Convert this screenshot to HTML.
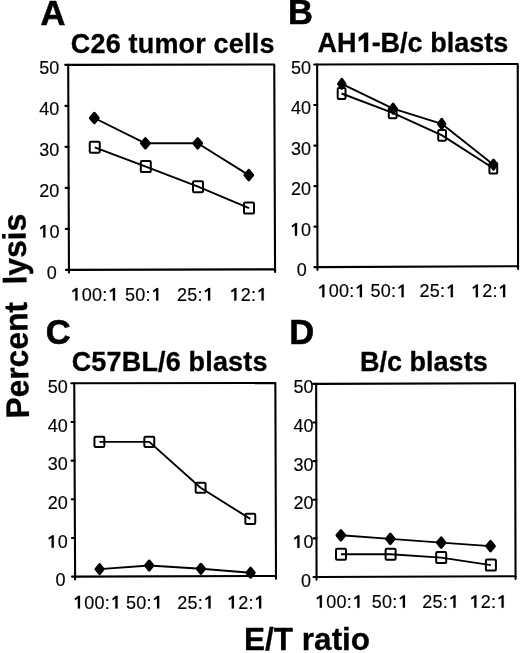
<!DOCTYPE html>
<html><head><meta charset="utf-8"><style>
html,body{margin:0;padding:0;background:#fff;}
body{width:520px;height:653px;overflow:hidden;}
svg{display:block;filter:grayscale(1);}
text{font-family:"Liberation Sans",sans-serif;fill:#000;}
text.t{stroke:#000;stroke-width:0.15px;}
text.L{stroke:#000;stroke-width:0.6px;}
text.T{stroke:#000;stroke-width:0.3px;}
tspan.one{fill-opacity:0;stroke-opacity:0;}
</style></head><body>
<svg width="520" height="653" viewBox="0 0 520 653">
<g>
<rect x="-10" y="-10" width="540" height="673" fill="#fff"/>
<path d="M68.20,64.85 L274.25,64.45 L275.05,269.35 L68.95,269.90 Z" fill="none" stroke="#000" stroke-width="2.1" stroke-linejoin="round"/>
<line x1="65.95" y1="269.90" x2="68.95" y2="269.90" stroke="#000" stroke-width="2.1" stroke-linecap="round"/>
<line x1="65.80" y1="228.89" x2="68.80" y2="228.89" stroke="#000" stroke-width="2.1" stroke-linecap="round"/>
<line x1="65.65" y1="187.88" x2="68.65" y2="187.88" stroke="#000" stroke-width="2.1" stroke-linecap="round"/>
<line x1="65.50" y1="146.87" x2="68.50" y2="146.87" stroke="#000" stroke-width="2.1" stroke-linecap="round"/>
<line x1="65.35" y1="105.86" x2="68.35" y2="105.86" stroke="#000" stroke-width="2.1" stroke-linecap="round"/>
<line x1="65.20" y1="64.85" x2="68.20" y2="64.85" stroke="#000" stroke-width="2.1" stroke-linecap="round"/>
<line x1="68.95" y1="269.90" x2="68.95" y2="272.60" stroke="#000" stroke-width="2.1" stroke-linecap="round"/>
<line x1="275.05" y1="269.35" x2="275.05" y2="272.05" stroke="#000" stroke-width="2.1" stroke-linecap="round"/>
<polyline points="94.30,118.00 145.40,143.30 197.70,143.30 248.80,175.10" fill="none" stroke="#000" stroke-width="1.9" stroke-linejoin="round"/>
<polyline points="94.75,147.30 145.80,166.60 198.00,186.70 249.00,208.10" fill="none" stroke="#000" stroke-width="1.9" stroke-linejoin="round"/>
<path d="M94.30,113.30 L98.20,118.00 L94.30,122.70 L90.40,118.00 Z" fill="#000" stroke="#000" stroke-width="3.0" stroke-linejoin="round"/>
<path d="M145.40,138.60 L149.30,143.30 L145.40,148.00 L141.50,143.30 Z" fill="#000" stroke="#000" stroke-width="3.0" stroke-linejoin="round"/>
<path d="M197.70,138.60 L201.60,143.30 L197.70,148.00 L193.80,143.30 Z" fill="#000" stroke="#000" stroke-width="3.0" stroke-linejoin="round"/>
<path d="M248.80,170.40 L252.70,175.10 L248.80,179.80 L244.90,175.10 Z" fill="#000" stroke="#000" stroke-width="3.0" stroke-linejoin="round"/>
<rect x="89.75" y="141.80" width="10.00" height="11.00" rx="1.2" fill="none" stroke="#000" stroke-width="2.0"/>
<rect x="140.80" y="161.10" width="10.00" height="11.00" rx="1.2" fill="none" stroke="#000" stroke-width="2.0"/>
<rect x="193.00" y="181.20" width="10.00" height="11.00" rx="1.2" fill="none" stroke="#000" stroke-width="2.0"/>
<rect x="244.00" y="202.60" width="10.00" height="11.00" rx="1.2" fill="none" stroke="#000" stroke-width="2.0"/>
<path d="M317.15,64.55 L517.75,63.95 L518.05,266.20 L317.45,267.15 Z" fill="none" stroke="#000" stroke-width="2.1" stroke-linejoin="round"/>
<line x1="314.45" y1="267.15" x2="317.45" y2="267.15" stroke="#000" stroke-width="2.1" stroke-linecap="round"/>
<line x1="314.39" y1="226.63" x2="317.39" y2="226.63" stroke="#000" stroke-width="2.1" stroke-linecap="round"/>
<line x1="314.33" y1="186.11" x2="317.33" y2="186.11" stroke="#000" stroke-width="2.1" stroke-linecap="round"/>
<line x1="314.27" y1="145.59" x2="317.27" y2="145.59" stroke="#000" stroke-width="2.1" stroke-linecap="round"/>
<line x1="314.21" y1="105.07" x2="317.21" y2="105.07" stroke="#000" stroke-width="2.1" stroke-linecap="round"/>
<line x1="314.15" y1="64.55" x2="317.15" y2="64.55" stroke="#000" stroke-width="2.1" stroke-linecap="round"/>
<line x1="317.45" y1="267.15" x2="317.45" y2="269.85" stroke="#000" stroke-width="2.1" stroke-linecap="round"/>
<line x1="518.05" y1="266.20" x2="518.05" y2="268.90" stroke="#000" stroke-width="2.1" stroke-linecap="round"/>
<polyline points="341.80,83.80 393.10,108.70 441.70,123.80 493.50,164.70" fill="none" stroke="#000" stroke-width="1.9" stroke-linejoin="round"/>
<polyline points="341.60,93.50 392.70,112.90 442.10,135.40 493.30,168.20" fill="none" stroke="#000" stroke-width="1.9" stroke-linejoin="round"/>
<path d="M341.80,79.30 L345.00,83.80 L341.80,88.30 L338.60,83.80 Z" fill="#000" stroke="#000" stroke-width="3.0" stroke-linejoin="round"/>
<path d="M393.10,104.20 L396.30,108.70 L393.10,113.20 L389.90,108.70 Z" fill="#000" stroke="#000" stroke-width="3.0" stroke-linejoin="round"/>
<path d="M441.70,119.30 L444.90,123.80 L441.70,128.30 L438.50,123.80 Z" fill="#000" stroke="#000" stroke-width="3.0" stroke-linejoin="round"/>
<path d="M493.50,160.20 L496.70,164.70 L493.50,169.20 L490.30,164.70 Z" fill="#000" stroke="#000" stroke-width="3.0" stroke-linejoin="round"/>
<rect x="337.70" y="88.10" width="7.80" height="10.80" rx="1.2" fill="none" stroke="#000" stroke-width="2.0"/>
<rect x="388.80" y="107.50" width="7.80" height="10.80" rx="1.2" fill="none" stroke="#000" stroke-width="2.0"/>
<rect x="438.20" y="130.00" width="7.80" height="10.80" rx="1.2" fill="none" stroke="#000" stroke-width="2.0"/>
<rect x="489.40" y="162.80" width="7.80" height="10.80" rx="1.2" fill="none" stroke="#000" stroke-width="2.0"/>
<path d="M74.25,383.30 L275.35,383.05 L276.00,576.00 L75.10,576.65 Z" fill="none" stroke="#000" stroke-width="2.1" stroke-linejoin="round"/>
<line x1="72.10" y1="576.65" x2="75.10" y2="576.65" stroke="#000" stroke-width="2.1" stroke-linecap="round"/>
<line x1="71.93" y1="537.98" x2="74.93" y2="537.98" stroke="#000" stroke-width="2.1" stroke-linecap="round"/>
<line x1="71.76" y1="499.31" x2="74.76" y2="499.31" stroke="#000" stroke-width="2.1" stroke-linecap="round"/>
<line x1="71.59" y1="460.64" x2="74.59" y2="460.64" stroke="#000" stroke-width="2.1" stroke-linecap="round"/>
<line x1="71.42" y1="421.97" x2="74.42" y2="421.97" stroke="#000" stroke-width="2.1" stroke-linecap="round"/>
<line x1="71.25" y1="383.30" x2="74.25" y2="383.30" stroke="#000" stroke-width="2.1" stroke-linecap="round"/>
<line x1="75.10" y1="576.65" x2="75.10" y2="579.35" stroke="#000" stroke-width="2.1" stroke-linecap="round"/>
<line x1="276.00" y1="576.00" x2="276.00" y2="578.70" stroke="#000" stroke-width="2.1" stroke-linecap="round"/>
<polyline points="99.60,569.10 149.20,565.50 200.90,568.80 250.60,572.70" fill="none" stroke="#000" stroke-width="1.9" stroke-linejoin="round"/>
<polyline points="99.40,441.90 149.30,441.90 200.60,487.70 250.30,518.90" fill="none" stroke="#000" stroke-width="1.9" stroke-linejoin="round"/>
<path d="M99.60,564.60 L103.20,569.10 L99.60,573.60 L96.00,569.10 Z" fill="#000" stroke="#000" stroke-width="3.0" stroke-linejoin="round"/>
<path d="M149.20,561.00 L152.80,565.50 L149.20,570.00 L145.60,565.50 Z" fill="#000" stroke="#000" stroke-width="3.0" stroke-linejoin="round"/>
<path d="M200.90,564.30 L204.50,568.80 L200.90,573.30 L197.30,568.80 Z" fill="#000" stroke="#000" stroke-width="3.0" stroke-linejoin="round"/>
<path d="M250.60,568.20 L254.20,572.70 L250.60,577.20 L247.00,572.70 Z" fill="#000" stroke="#000" stroke-width="3.0" stroke-linejoin="round"/>
<rect x="94.45" y="436.85" width="9.90" height="10.10" rx="1.2" fill="none" stroke="#000" stroke-width="2.0"/>
<rect x="144.35" y="436.85" width="9.90" height="10.10" rx="1.2" fill="none" stroke="#000" stroke-width="2.0"/>
<rect x="195.65" y="482.65" width="9.90" height="10.10" rx="1.2" fill="none" stroke="#000" stroke-width="2.0"/>
<rect x="245.35" y="513.85" width="9.90" height="10.10" rx="1.2" fill="none" stroke="#000" stroke-width="2.0"/>
<path d="M316.15,383.85 L515.00,383.25 L515.55,576.30 L316.55,576.95 Z" fill="none" stroke="#000" stroke-width="2.1" stroke-linejoin="round"/>
<line x1="313.55" y1="576.95" x2="316.55" y2="576.95" stroke="#000" stroke-width="2.1" stroke-linecap="round"/>
<line x1="313.47" y1="538.33" x2="316.47" y2="538.33" stroke="#000" stroke-width="2.1" stroke-linecap="round"/>
<line x1="313.39" y1="499.71" x2="316.39" y2="499.71" stroke="#000" stroke-width="2.1" stroke-linecap="round"/>
<line x1="313.31" y1="461.09" x2="316.31" y2="461.09" stroke="#000" stroke-width="2.1" stroke-linecap="round"/>
<line x1="313.23" y1="422.47" x2="316.23" y2="422.47" stroke="#000" stroke-width="2.1" stroke-linecap="round"/>
<line x1="313.15" y1="383.85" x2="316.15" y2="383.85" stroke="#000" stroke-width="2.1" stroke-linecap="round"/>
<line x1="316.55" y1="576.95" x2="316.55" y2="579.65" stroke="#000" stroke-width="2.1" stroke-linecap="round"/>
<line x1="515.55" y1="576.30" x2="515.55" y2="579.00" stroke="#000" stroke-width="2.1" stroke-linecap="round"/>
<polyline points="340.90,535.30 390.30,538.90 441.20,542.60 490.50,546.10" fill="none" stroke="#000" stroke-width="1.9" stroke-linejoin="round"/>
<polyline points="341.00,554.30 390.60,554.20 441.20,557.60 490.90,565.10" fill="none" stroke="#000" stroke-width="1.9" stroke-linejoin="round"/>
<path d="M340.90,530.60 L344.80,535.30 L340.90,540.00 L337.00,535.30 Z" fill="#000" stroke="#000" stroke-width="3.0" stroke-linejoin="round"/>
<path d="M390.30,534.20 L394.20,538.90 L390.30,543.60 L386.40,538.90 Z" fill="#000" stroke="#000" stroke-width="3.0" stroke-linejoin="round"/>
<path d="M441.20,537.90 L445.10,542.60 L441.20,547.30 L437.30,542.60 Z" fill="#000" stroke="#000" stroke-width="3.0" stroke-linejoin="round"/>
<path d="M490.50,541.40 L494.40,546.10 L490.50,550.80 L486.60,546.10 Z" fill="#000" stroke="#000" stroke-width="3.0" stroke-linejoin="round"/>
<rect x="336.00" y="548.80" width="10.00" height="11.00" rx="1.2" fill="none" stroke="#000" stroke-width="2.0"/>
<rect x="385.60" y="548.70" width="10.00" height="11.00" rx="1.2" fill="none" stroke="#000" stroke-width="2.0"/>
<rect x="436.20" y="552.10" width="10.00" height="11.00" rx="1.2" fill="none" stroke="#000" stroke-width="2.0"/>
<rect x="485.90" y="559.60" width="10.00" height="11.00" rx="1.2" fill="none" stroke="#000" stroke-width="2.0"/>
<text x="40.60" y="24.90" font-size="34.5" font-weight="bold" text-anchor="start" class="L">A</text>
<text x="288.10" y="24.40" font-size="34.5" font-weight="bold" text-anchor="start" class="L">B</text>
<text x="45.70" y="343.50" font-size="34.5" font-weight="bold" text-anchor="start" class="L">C</text>
<text x="289.30" y="343.90" font-size="34.5" font-weight="bold" text-anchor="start" class="L">D</text>
<text x="70.80" y="52.60" font-size="27" font-weight="bold" text-anchor="start" class="T" letter-spacing="0.18">C26 tumor cells</text>
<text x="317.60" y="52.10" font-size="27" font-weight="bold" text-anchor="start" class="T">AH<tspan class="one">1</tspan>-B/c blasts</text>
<text x="71.70" y="370.80" font-size="27" font-weight="bold" text-anchor="start" class="T" letter-spacing="0.17">C57BL/6 blasts</text>
<text x="360.10" y="370.50" font-size="27" font-weight="bold" text-anchor="start" class="T">B/c blasts</text>
<text x="0.00" y="0.00" font-size="32.5" font-weight="bold" text-anchor="start" class="T" transform="translate(28.9,418.3) rotate(-91) scale(0.977,1)">Percent  lysis</text>
<text x="244.10" y="649.80" font-size="31.5" font-weight="bold" text-anchor="start" class="T">E/T ratio</text>
<text x="56.80" y="278.60" font-size="18" font-weight="normal" text-anchor="end" class="t">0</text>
<text x="59.40" y="237.59" font-size="18" font-weight="normal" text-anchor="end" class="t"><tspan class="one">1</tspan>0</text>
<text x="59.40" y="196.58" font-size="18" font-weight="normal" text-anchor="end" class="t">20</text>
<text x="59.40" y="155.57" font-size="18" font-weight="normal" text-anchor="end" class="t">30</text>
<text x="59.40" y="114.56" font-size="18" font-weight="normal" text-anchor="end" class="t">40</text>
<text x="59.40" y="73.55" font-size="18" font-weight="normal" text-anchor="end" class="t">50</text>
<text x="306.80" y="276.15" font-size="18" font-weight="normal" text-anchor="end" class="t">0</text>
<text x="311.10" y="235.63" font-size="18" font-weight="normal" text-anchor="end" class="t"><tspan class="one">1</tspan>0</text>
<text x="311.10" y="195.11" font-size="18" font-weight="normal" text-anchor="end" class="t">20</text>
<text x="311.10" y="154.59" font-size="18" font-weight="normal" text-anchor="end" class="t">30</text>
<text x="311.10" y="114.07" font-size="18" font-weight="normal" text-anchor="end" class="t">40</text>
<text x="311.10" y="73.55" font-size="18" font-weight="normal" text-anchor="end" class="t">50</text>
<text x="65.40" y="586.45" font-size="18" font-weight="normal" text-anchor="end" class="t">0</text>
<text x="67.80" y="547.78" font-size="18" font-weight="normal" text-anchor="end" class="t"><tspan class="one">1</tspan>0</text>
<text x="67.80" y="509.11" font-size="18" font-weight="normal" text-anchor="end" class="t">20</text>
<text x="67.80" y="470.44" font-size="18" font-weight="normal" text-anchor="end" class="t">30</text>
<text x="67.80" y="431.77" font-size="18" font-weight="normal" text-anchor="end" class="t">40</text>
<text x="67.80" y="393.10" font-size="18" font-weight="normal" text-anchor="end" class="t">50</text>
<text x="310.90" y="586.55" font-size="18" font-weight="normal" text-anchor="end" class="t">0</text>
<text x="313.50" y="547.93" font-size="18" font-weight="normal" text-anchor="end" class="t"><tspan class="one">1</tspan>0</text>
<text x="313.50" y="509.31" font-size="18" font-weight="normal" text-anchor="end" class="t">20</text>
<text x="313.50" y="470.69" font-size="18" font-weight="normal" text-anchor="end" class="t">30</text>
<text x="313.50" y="432.07" font-size="18" font-weight="normal" text-anchor="end" class="t">40</text>
<text x="313.50" y="393.45" font-size="18" font-weight="normal" text-anchor="end" class="t">50</text>
<text x="71.50" y="300.60" font-size="18" font-weight="normal" text-anchor="start" class="t" letter-spacing="0.25"><tspan class="one">1</tspan>00:<tspan class="one" dx="1.5">1</tspan></text>
<text x="125.00" y="300.60" font-size="18" font-weight="normal" text-anchor="start" class="t" letter-spacing="0.25">50:<tspan class="one" dx="1.5">1</tspan></text>
<text x="176.90" y="300.60" font-size="18" font-weight="normal" text-anchor="start" class="t" letter-spacing="0.25">25:<tspan class="one" dx="1.5">1</tspan></text>
<text x="230.40" y="300.60" font-size="18" font-weight="normal" text-anchor="start" class="t" letter-spacing="0.25"><tspan class="one">1</tspan>2:<tspan class="one" dx="1.5">1</tspan></text>
<text x="318.40" y="297.20" font-size="18" font-weight="normal" text-anchor="start" class="t" letter-spacing="0.25"><tspan class="one">1</tspan>00:<tspan class="one" dx="1.5">1</tspan></text>
<text x="370.40" y="297.20" font-size="18" font-weight="normal" text-anchor="start" class="t" letter-spacing="0.25">50:<tspan class="one" dx="1.5">1</tspan></text>
<text x="419.60" y="297.20" font-size="18" font-weight="normal" text-anchor="start" class="t" letter-spacing="0.25">25:<tspan class="one" dx="1.5">1</tspan></text>
<text x="471.90" y="297.20" font-size="18" font-weight="normal" text-anchor="start" class="t" letter-spacing="0.25"><tspan class="one">1</tspan>2:<tspan class="one" dx="1.5">1</tspan></text>
<text x="74.00" y="608.50" font-size="18" font-weight="normal" text-anchor="start" class="t" letter-spacing="0.25"><tspan class="one">1</tspan>00:<tspan class="one" dx="1.5">1</tspan></text>
<text x="125.90" y="608.50" font-size="18" font-weight="normal" text-anchor="start" class="t" letter-spacing="0.25">50:<tspan class="one" dx="1.5">1</tspan></text>
<text x="177.30" y="608.50" font-size="18" font-weight="normal" text-anchor="start" class="t" letter-spacing="0.25">25:<tspan class="one" dx="1.5">1</tspan></text>
<text x="227.90" y="608.50" font-size="18" font-weight="normal" text-anchor="start" class="t" letter-spacing="0.25"><tspan class="one">1</tspan>2:<tspan class="one" dx="1.5">1</tspan></text>
<text x="315.90" y="607.80" font-size="18" font-weight="normal" text-anchor="start" class="t" letter-spacing="0.25"><tspan class="one">1</tspan>00:<tspan class="one" dx="1.5">1</tspan></text>
<text x="371.70" y="607.80" font-size="18" font-weight="normal" text-anchor="start" class="t" letter-spacing="0.25">50:<tspan class="one" dx="1.5">1</tspan></text>
<text x="422.30" y="607.80" font-size="18" font-weight="normal" text-anchor="start" class="t" letter-spacing="0.25">25:<tspan class="one" dx="1.5">1</tspan></text>
<text x="470.40" y="607.80" font-size="18" font-weight="normal" text-anchor="start" class="t" letter-spacing="0.25"><tspan class="one">1</tspan>2:<tspan class="one" dx="1.5">1</tspan></text>
<path d="M368.08,52.10 L368.08,32.71 L364.70,32.71 L358.76,37.38 L358.76,41.57 L364.03,38.06 L364.03,52.10 Z" fill="#000" stroke="#000" stroke-width="0.3"/>
<path d="M45.40,237.59 L45.40,224.94 L43.78,224.94 L39.91,227.78 L40.63,229.40 L43.18,227.51 L43.18,237.59 Z" fill="#000" stroke="#000" stroke-width="0.15"/>
<path d="M297.10,235.63 L297.10,222.98 L295.48,222.98 L291.61,225.82 L292.33,227.44 L294.88,225.55 L294.88,235.63 Z" fill="#000" stroke="#000" stroke-width="0.15"/>
<path d="M53.80,547.78 L53.80,535.13 L52.18,535.13 L48.31,537.97 L49.03,539.59 L51.58,537.70 L51.58,547.78 Z" fill="#000" stroke="#000" stroke-width="0.15"/>
<path d="M299.50,547.93 L299.50,535.28 L297.88,535.28 L294.01,538.12 L294.73,539.74 L297.28,537.85 L297.28,547.93 Z" fill="#000" stroke="#000" stroke-width="0.15"/>
<path d="M77.53,300.60 L77.53,287.95 L75.91,287.95 L72.04,290.79 L72.76,292.41 L75.32,290.52 L75.32,300.60 Z" fill="#000" stroke="#000" stroke-width="0.15"/>
<path d="M115.08,300.60 L115.08,287.95 L113.46,287.95 L109.59,290.79 L110.31,292.41 L112.86,290.52 L112.86,300.60 Z" fill="#000" stroke="#000" stroke-width="0.15"/>
<path d="M158.31,300.60 L158.31,287.95 L156.69,287.95 L152.82,290.79 L153.54,292.41 L156.10,290.52 L156.10,300.60 Z" fill="#000" stroke="#000" stroke-width="0.15"/>
<path d="M210.21,300.60 L210.21,287.95 L208.59,287.95 L204.72,290.79 L205.44,292.41 L208.00,290.52 L208.00,300.60 Z" fill="#000" stroke="#000" stroke-width="0.15"/>
<path d="M236.43,300.60 L236.43,287.95 L234.81,287.95 L230.94,290.79 L231.66,292.41 L234.22,290.52 L234.22,300.60 Z" fill="#000" stroke="#000" stroke-width="0.15"/>
<path d="M263.71,300.60 L263.71,287.95 L262.09,287.95 L258.22,290.79 L258.94,292.41 L261.50,290.52 L261.50,300.60 Z" fill="#000" stroke="#000" stroke-width="0.15"/>
<path d="M324.43,297.20 L324.43,284.55 L322.81,284.55 L318.94,287.39 L319.66,289.01 L322.22,287.12 L322.22,297.20 Z" fill="#000" stroke="#000" stroke-width="0.15"/>
<path d="M361.98,297.20 L361.98,284.55 L360.36,284.55 L356.49,287.39 L357.21,289.01 L359.76,287.12 L359.76,297.20 Z" fill="#000" stroke="#000" stroke-width="0.15"/>
<path d="M403.71,297.20 L403.71,284.55 L402.09,284.55 L398.22,287.39 L398.94,289.01 L401.50,287.12 L401.50,297.20 Z" fill="#000" stroke="#000" stroke-width="0.15"/>
<path d="M452.91,297.20 L452.91,284.55 L451.29,284.55 L447.42,287.39 L448.14,289.01 L450.70,287.12 L450.70,297.20 Z" fill="#000" stroke="#000" stroke-width="0.15"/>
<path d="M477.93,297.20 L477.93,284.55 L476.31,284.55 L472.44,287.39 L473.16,289.01 L475.72,287.12 L475.72,297.20 Z" fill="#000" stroke="#000" stroke-width="0.15"/>
<path d="M505.21,297.20 L505.21,284.55 L503.59,284.55 L499.72,287.39 L500.44,289.01 L503.00,287.12 L503.00,297.20 Z" fill="#000" stroke="#000" stroke-width="0.15"/>
<path d="M80.03,608.50 L80.03,595.85 L78.41,595.85 L74.54,598.69 L75.26,600.31 L77.82,598.42 L77.82,608.50 Z" fill="#000" stroke="#000" stroke-width="0.15"/>
<path d="M117.58,608.50 L117.58,595.85 L115.96,595.85 L112.09,598.69 L112.81,600.31 L115.36,598.42 L115.36,608.50 Z" fill="#000" stroke="#000" stroke-width="0.15"/>
<path d="M159.21,608.50 L159.21,595.85 L157.59,595.85 L153.72,598.69 L154.44,600.31 L157.00,598.42 L157.00,608.50 Z" fill="#000" stroke="#000" stroke-width="0.15"/>
<path d="M210.61,608.50 L210.61,595.85 L208.99,595.85 L205.12,598.69 L205.84,600.31 L208.40,598.42 L208.40,608.50 Z" fill="#000" stroke="#000" stroke-width="0.15"/>
<path d="M233.93,608.50 L233.93,595.85 L232.31,595.85 L228.44,598.69 L229.16,600.31 L231.72,598.42 L231.72,608.50 Z" fill="#000" stroke="#000" stroke-width="0.15"/>
<path d="M261.21,608.50 L261.21,595.85 L259.59,595.85 L255.72,598.69 L256.44,600.31 L259.00,598.42 L259.00,608.50 Z" fill="#000" stroke="#000" stroke-width="0.15"/>
<path d="M321.93,607.80 L321.93,595.15 L320.31,595.15 L316.44,597.99 L317.16,599.61 L319.72,597.72 L319.72,607.80 Z" fill="#000" stroke="#000" stroke-width="0.15"/>
<path d="M359.48,607.80 L359.48,595.15 L357.86,595.15 L353.99,597.99 L354.71,599.61 L357.26,597.72 L357.26,607.80 Z" fill="#000" stroke="#000" stroke-width="0.15"/>
<path d="M405.01,607.80 L405.01,595.15 L403.39,595.15 L399.52,597.99 L400.24,599.61 L402.80,597.72 L402.80,607.80 Z" fill="#000" stroke="#000" stroke-width="0.15"/>
<path d="M455.61,607.80 L455.61,595.15 L453.99,595.15 L450.12,597.99 L450.84,599.61 L453.40,597.72 L453.40,607.80 Z" fill="#000" stroke="#000" stroke-width="0.15"/>
<path d="M476.43,607.80 L476.43,595.15 L474.81,595.15 L470.94,597.99 L471.66,599.61 L474.22,597.72 L474.22,607.80 Z" fill="#000" stroke="#000" stroke-width="0.15"/>
<path d="M503.71,607.80 L503.71,595.15 L502.09,595.15 L498.22,597.99 L498.94,599.61 L501.50,597.72 L501.50,607.80 Z" fill="#000" stroke="#000" stroke-width="0.15"/>
</g>
</svg>
</body></html>
